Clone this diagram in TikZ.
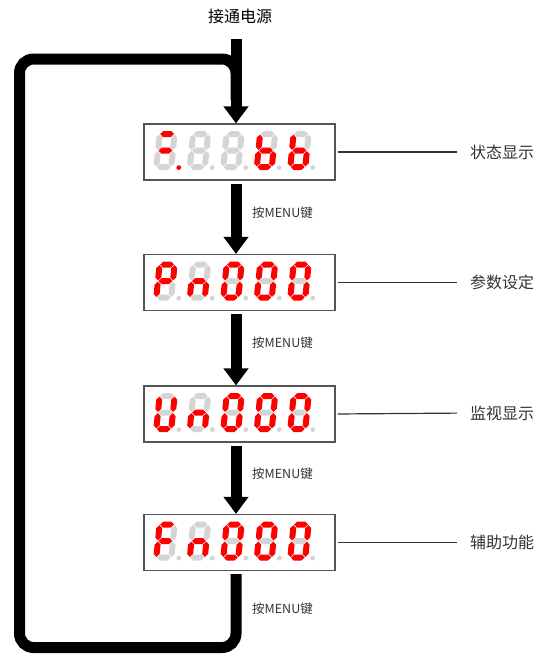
\documentclass[tikz,border=0pt]{standalone}
\usepackage{fontspec}
\setmainfont{Noto Sans CJK SC}
\usetikzlibrary{arrows.meta}
\definecolor{sr}{HTML}{FF0000}
\definecolor{sg}{HTML}{D4D4D4}
\definecolor{txt}{HTML}{333333}
\definecolor{boxline}{HTML}{555555}
\newcommand\dgy{170}
% #1 x, #2..#9 colours of a b c d e f g dp
\newcommand\dg[9]{%
\begin{scope}[shift={(#1,\dgy)},xslant=0.1]
\fill[#2] (3.6,-36)--(6.6,-39)--(14.4,-39)--(17.4,-36)--(14.4,-33)--(6.6,-33)--cycle;
\fill[#3] (18,-35.4)--(21,-32.4)--(21,-23.1)--(18,-20.1)--(15,-23.1)--(15,-32.4)--cycle;
\fill[#4] (18,-18.9)--(21,-15.9)--(21,-6.6)--(18,-3.6)--(15,-6.6)--(15,-15.9)--cycle;
\fill[#5] (3.6,-3)--(6.6,-6)--(14.4,-6)--(17.4,-3)--(14.4,0)--(6.6,0)--cycle;
\fill[#6] (3,-18.9)--(6,-15.9)--(6,-6.6)--(3,-3.6)--(0,-6.6)--(0,-15.9)--cycle;
\fill[#7] (3,-35.4)--(6,-32.4)--(6,-23.1)--(3,-20.1)--(0,-23.1)--(0,-32.4)--cycle;
\fill[#8] (3.6,-19.5)--(6.6,-22.5)--(14.4,-22.5)--(17.4,-19.5)--(14.4,-16.5)--(6.6,-16.5)--cycle;
\fill[#9] (25.5,-2.4) circle[radius=2.4];
\end{scope}}
\newcommand\zero[1]{\dg{#1}{sr}{sr}{sr}{sr}{sr}{sr}{sg}{sg}}
\newcommand\nn[1]{\dg{#1}{sg}{sg}{sr}{sg}{sr}{sg}{sr}{sg}}
\begin{document}
\begin{tikzpicture}[x=1pt,y=-1pt,
  dbox/.style={draw=boxline,line width=1.2pt,fill=white,minimum width=191pt,minimum height=56pt,inner sep=0pt},
  bigarrow/.style={line width=11pt,-{Triangle[width=24pt,length=17pt]}},
  loopline/.style={line width=11pt,rounded corners=14pt},
  lab/.style={text=txt,font=\fontsize{16}{18}\selectfont,inner sep=0pt,anchor=west},
  menu/.style={text=txt,font=\fontsize{12.5}{14}\selectfont,inner sep=0pt,anchor=west},
  labline/.style={draw=txt,line width=1.2pt,shorten <=2pt,shorten >=13pt}]
\useasboundingbox (0,0) rectangle (539,654);
\node[text=black,font=\fontsize{16}{18}\selectfont,inner sep=0pt] (title) at (240,16) {接通电源};
\node[dbox] (b1) at (239.5,152) {};
\node[dbox] (b2) at (239.5,282.5) {};
\node[dbox] (b3) at (239.5,414) {};
\node[dbox] (b4) at (239.5,542.5) {};
% loop
\coordinate (c1) at (19.5,647.5);
\coordinate (c2) at (19.5,59);
\coordinate (m) at (236,100);
\draw[loopline] ([xshift=-3.5pt,yshift=-3pt]b4.south) |- (c1) -- (c2) -| (m);
% arrows
\draw[bigarrow,shorten <=15pt] ([xshift=-4pt]title.south) -- ([xshift=-3.5pt]b1.north);
\draw[bigarrow,shorten <=3pt] ([xshift=-3.5pt]b1.south) -- ([xshift=-3.5pt]b2.north);
\draw[bigarrow,shorten <=3pt] ([xshift=-3.5pt]b2.south) -- ([xshift=-3.5pt]b3.north);
\draw[bigarrow,shorten <=3pt] ([xshift=-3.5pt]b3.south) -- ([xshift=-3.5pt]b4.north);
% digits box1
\renewcommand\dgy{170}
\dg{153}{sr}{sg}{sg}{sg}{sg}{sg}{sr}{sr}
\dg{186.5}{sg}{sg}{sg}{sg}{sg}{sg}{sg}{sg}
\dg{220}{sg}{sg}{sg}{sg}{sg}{sg}{sg}{sg}
\dg{253.5}{sg}{sg}{sr}{sr}{sr}{sr}{sr}{sg}
\dg{287}{sg}{sg}{sr}{sr}{sr}{sr}{sr}{sg}
% box2
\renewcommand\dgy{300.5}
\dg{153}{sr}{sr}{sg}{sg}{sr}{sr}{sr}{sg}
\nn{186.5}\zero{220}\zero{253.5}\zero{287}
% box3
\renewcommand\dgy{432}
\dg{153}{sg}{sr}{sr}{sr}{sr}{sr}{sg}{sg}
\nn{186.5}\zero{220}\zero{253.5}\zero{287}
% box4
\renewcommand\dgy{560.5}
\dg{153}{sr}{sg}{sg}{sg}{sr}{sr}{sr}{sg}
\nn{186.5}\zero{220}\zero{253.5}\zero{287}
% labels
\node[lab] (l1) at (470,152) {状态显示};
\node[lab] (l2) at (470,282.5) {参数设定};
\node[lab] (l3) at (470,413) {监视显示};
\node[lab] (l4) at (470,542.5) {辅助功能};
\draw[labline] (b1.east) -- (l1.west);
\draw[labline] (b2.east) -- (l2.west);
\draw[labline] (b3.east) -- (l3.west);
\draw[labline] (b4.east) -- (l4.west);
\node[menu] (k1) at (252,213) {按MENU键};
\node[menu] (k2) at (252,343) {按MENU键};
\node[menu] (k3) at (252,474) {按MENU键};
\node[menu] (k4) at (252,609) {按MENU键};
\end{tikzpicture}
\end{document}
